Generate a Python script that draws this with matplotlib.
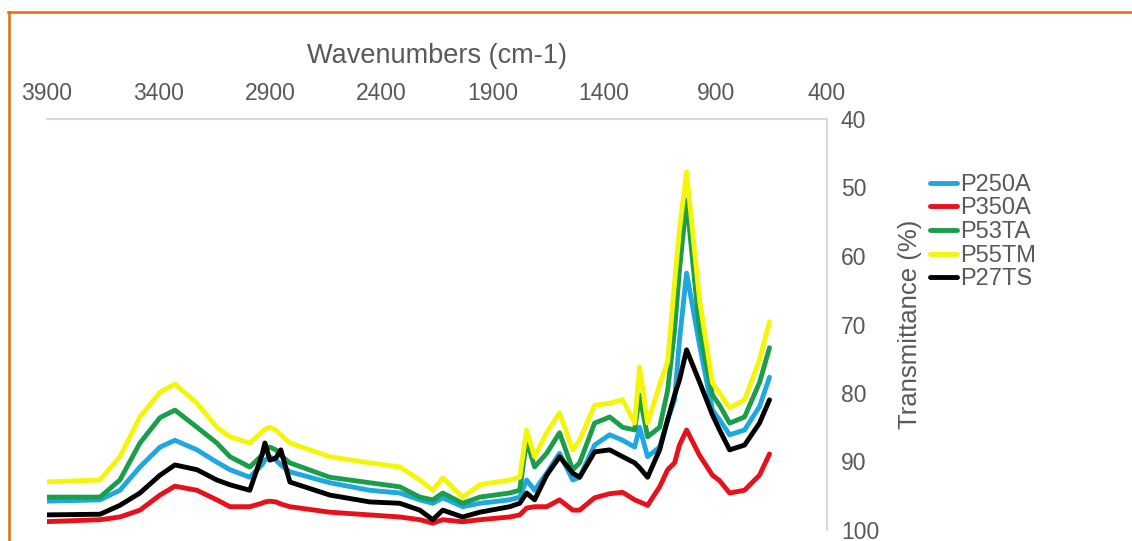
import matplotlib
matplotlib.use("Agg")
import matplotlib.pyplot as plt
from matplotlib.lines import Line2D

plt.rcParams['font.family'] = ['Liberation Sans', 'DejaVu Sans']

# Wavenumbers (cm-1), shared sampling grid
wavenumber = [3920, 3662, 3573, 3483, 3393, 3326, 3227, 3138, 3079, 2990,
              2936, 2922, 2900, 2873, 2851, 2810, 2631, 2452, 2317, 2227,
              2169, 2124, 2035, 1958, 1824, 1779, 1748, 1712, 1658, 1600,
              1541, 1510, 1443, 1375, 1317, 1263, 1241, 1205, 1151, 1115,
              1084, 1062, 1030, 972, 914, 882, 837, 770, 703, 658]

p250a = [95.8, 95.6, 94.2, 90.8, 87.9, 86.9, 88.3, 90.1, 91.2, 92.3,
         90.5, 89.8, 89.3, 89.8, 90.5, 91.5, 93.1, 94.2, 94.6, 95.6,
         96.1, 95.3, 96.6, 96.1, 95.6, 95.2, 92.7, 94.2, 91.7, 88.8,
         92.7, 92.3, 87.6, 86.1, 86.9, 87.9, 85.0, 89.3, 87.9, 83.9,
         81.0, 72.3, 62.5, 73.0, 82.5, 83.9, 86.1, 85.4, 82.0, 77.7]

p350a = [98.8, 98.5, 98.1, 97.1, 94.9, 93.6, 94.2, 95.6, 96.6, 96.6,
         96.1, 95.9, 95.8, 95.9, 96.2, 96.6, 97.4, 97.8, 98.1, 98.5,
         99.0, 98.5, 98.8, 98.5, 98.1, 97.8, 96.8, 96.6, 96.6, 95.6,
         97.1, 97.1, 95.3, 94.7, 94.5, 95.6, 95.9, 96.4, 93.7, 91.2,
         90.2, 87.6, 85.4, 89.1, 92.0, 92.8, 94.6, 94.2, 92.0, 88.9]

p53ta = [95.2, 95.2, 92.7, 87.3, 83.6, 82.5, 85.0, 87.3, 89.3, 90.8,
         89.1, 88.3, 87.9, 88.3, 89.1, 90.2, 92.3, 93.1, 93.7, 95.2,
         95.6, 94.6, 96.1, 95.2, 94.6, 94.2, 86.9, 90.8, 88.8, 85.8,
         91.2, 90.2, 84.4, 83.5, 85.0, 85.4, 80.3, 86.4, 85.0, 79.6,
         70.8, 62.0, 51.8, 70.8, 80.3, 81.8, 84.4, 83.5, 78.5, 73.4]

p55tm = [93.0, 92.7, 89.3, 83.5, 79.9, 78.7, 81.5, 85.0, 86.4, 87.3,
         85.7, 85.3, 85.0, 85.4, 86.1, 87.3, 89.3, 90.2, 90.8, 92.7,
         94.2, 92.4, 95.2, 93.4, 92.7, 92.3, 85.4, 89.3, 85.8, 82.9,
         88.3, 86.9, 81.8, 81.5, 81.0, 84.4, 76.2, 84.4, 78.8, 75.5,
         63.9, 56.2, 47.7, 66.4, 78.5, 80.0, 82.2, 81.0, 75.2, 69.6]

p27ts = [97.8, 97.7, 96.4, 94.6, 92.0, 90.5, 91.2, 92.7, 93.4, 94.2,
         89.1, 87.3, 89.8, 89.5, 88.3, 93.0, 94.9, 95.9, 96.1, 97.1,
         98.5, 97.1, 98.1, 97.4, 96.6, 96.1, 94.6, 95.6, 92.0, 89.3,
         91.7, 92.3, 88.6, 88.3, 89.3, 90.2, 90.9, 92.3, 88.3, 83.9,
         80.3, 78.1, 73.7, 78.4, 83.2, 85.4, 88.3, 87.6, 84.4, 81.0]

series_names = ["P250A", "P350A", "P53TA", "P55TM", "P27TS"]
series_values = [p250a, p350a, p53ta, p55tm, p27ts]
series_colors = ["#1EA7E1", "#E8101A", "#1A9E4A", "#F5F50A", "#000000"]

x_ticks = [3900, 3400, 2900, 2400, 1900, 1400, 900, 400]
y_ticks = [40, 50, 60, 70, 80, 90, 100]

W, H = 1132, 541
fig = plt.figure(figsize=(W / 100, H / 100), dpi=100)
ax = fig.add_axes([47 / W, 1 - 530 / H, (827 - 47) / W, (530 - 119) / H])

for name, vals, col in zip(series_names, series_values, series_colors):
    ax.plot(wavenumber, vals, color=col, lw=3.5, label=name,
            solid_joinstyle='round', solid_capstyle='round')

ax.set_xlim(3900, 400)
ax.set_ylim(100, 40)
ax.set_xticks(x_ticks)
ax.set_yticks(y_ticks)
ax.xaxis.tick_top()
ax.yaxis.tick_right()
ax.tick_params(axis='both', length=0, colors='#595959', labelsize=16.5)
ax.tick_params(axis='x', pad=10)
ax.tick_params(axis='y', pad=10)
for s in ['left', 'bottom']:
    ax.spines[s].set_visible(False)
for s in ['top', 'right']:
    ax.spines[s].set_color('#d9d9d9')
    ax.spines[s].set_linewidth(1.5)

ax.xaxis.set_label_position('top')
ax.set_xlabel("Wavenumbers (cm-1)", fontsize=19.5, color='#595959', labelpad=14)

fig.text(910 / W, 1 - 324 / H, "Transmittance (%)", rotation=90,
         ha='center', va='center', fontsize=18.5, color='#595959')

leg = fig.legend(loc='upper left', bbox_to_anchor=(918 / W, 1 - 162 / H),
                 frameon=False, fontsize=17, handlelength=1.15,
                 handletextpad=0.15, labelspacing=0.07, borderpad=0,
                 labelcolor='#595959')

# orange frame lines (top and left)
fig.add_artist(Line2D([8 / W, 1.0], [1 - 12 / H, 1 - 12 / H],
                      color='#E36C0A', lw=1.8, transform=fig.transFigure))
fig.add_artist(Line2D([9 / W, 9 / W], [1 - 12 / H, 0.0],
                      color='#E36C0A', lw=1.8, transform=fig.transFigure))

fig.savefig("out.png", dpi=100)
